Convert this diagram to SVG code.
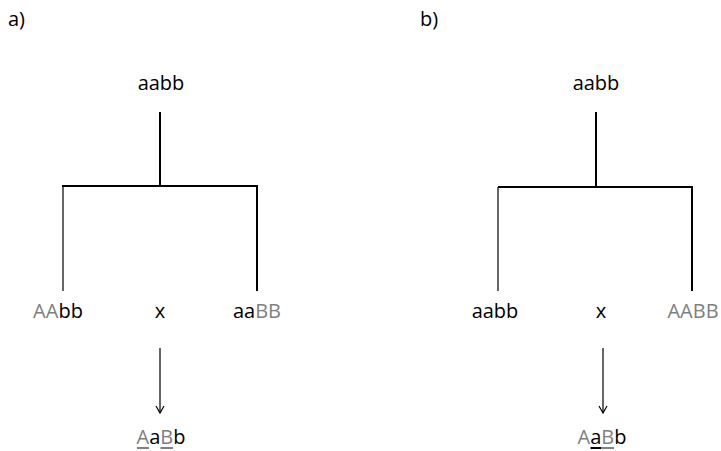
<svg xmlns="http://www.w3.org/2000/svg" width="721" height="451" viewBox="0 0 721 451">
  <style>
    text { font-family: "Open Sans", "Liberation Sans", sans-serif; font-size: 20px; fill: #000; }
    .c { text-anchor: middle; }
    .g { fill: #808080; }
    .thin { stroke: #000; stroke-width: 1.2; fill: none; }
    .thick { stroke: #000; stroke-width: 2; fill: none; }
    .ul-g { stroke: #808080; stroke-width: 2; }
    .ul-k { stroke: #000; stroke-width: 2; }
  </style>
  <defs>
    <marker id="arrow" viewBox="0 0 10 10" refX="9" refY="5" markerWidth="10" markerHeight="10" markerUnits="userSpaceOnUse" orient="auto">
      <path d="M2,1 L9,5 L2,9" fill="none" stroke="#000" stroke-width="1.2"/>
    </marker>
  </defs>

  <!-- panel labels -->
  <text x="8" y="26">a)</text>
  <text x="420" y="26">b)</text>

  <!-- connectors -->
  <g id="connectors">
    <!-- panel a -->
    <line class="thick" x1="160" y1="112" x2="160" y2="187"/>
    <line class="thick" x1="62" y1="186" x2="258" y2="186"/>
    <line class="thin" x1="63" y1="186" x2="63" y2="291"/>
    <line class="thick" x1="257" y1="186" x2="257" y2="291"/>
    <line class="thin" x1="160" y1="348" x2="160" y2="413" marker-end="url(#arrow)"/>
    <!-- panel b -->
    <line class="thick" x1="596" y1="112" x2="596" y2="187"/>
    <line class="thick" x1="498" y1="187" x2="693" y2="187"/>
    <line class="thin" x1="498" y1="187" x2="498" y2="291"/>
    <line class="thick" x1="692" y1="187" x2="692" y2="291"/>
    <line class="thin" x1="603" y1="348" x2="603" y2="413" marker-end="url(#arrow)"/>
  </g>

  <!-- panel a nodes -->
  <g id="a-parent"><text class="c" x="161" y="90">aabb</text></g>
  <g id="a-left"><text class="c" x="58" y="318"><tspan class="g">AA</tspan>bb</text></g>
  <g id="a-cross"><text class="c" x="160" y="318">x</text></g>
  <g id="a-right"><text class="c" x="257" y="318">aa<tspan class="g">BB</tspan></text></g>
  <g id="a-child">
    <text class="c" x="161" y="444"><tspan class="g">A</tspan>a<tspan class="g">B</tspan>b</text>
    <line class="ul-g" x1="137" y1="448" x2="149" y2="448"/>
    <line class="ul-g" x1="160.5" y1="448" x2="173" y2="448"/>
  </g>

  <!-- panel b nodes -->
  <g id="b-parent"><text class="c" x="596" y="90">aabb</text></g>
  <g id="b-left"><text class="c" x="495" y="318">aabb</text></g>
  <g id="b-cross"><text class="c" x="601" y="318">x</text></g>
  <g id="b-right"><text class="c g" x="693" y="318">AABB</text></g>
  <g id="b-child">
    <text class="c" x="602" y="444"><tspan class="g">A</tspan>a<tspan class="g">B</tspan>b</text>
    <line class="ul-k" x1="590.5" y1="448" x2="601.3" y2="448"/>
    <line class="ul-g" x1="601.3" y1="448" x2="614" y2="448"/>
  </g>
</svg>
